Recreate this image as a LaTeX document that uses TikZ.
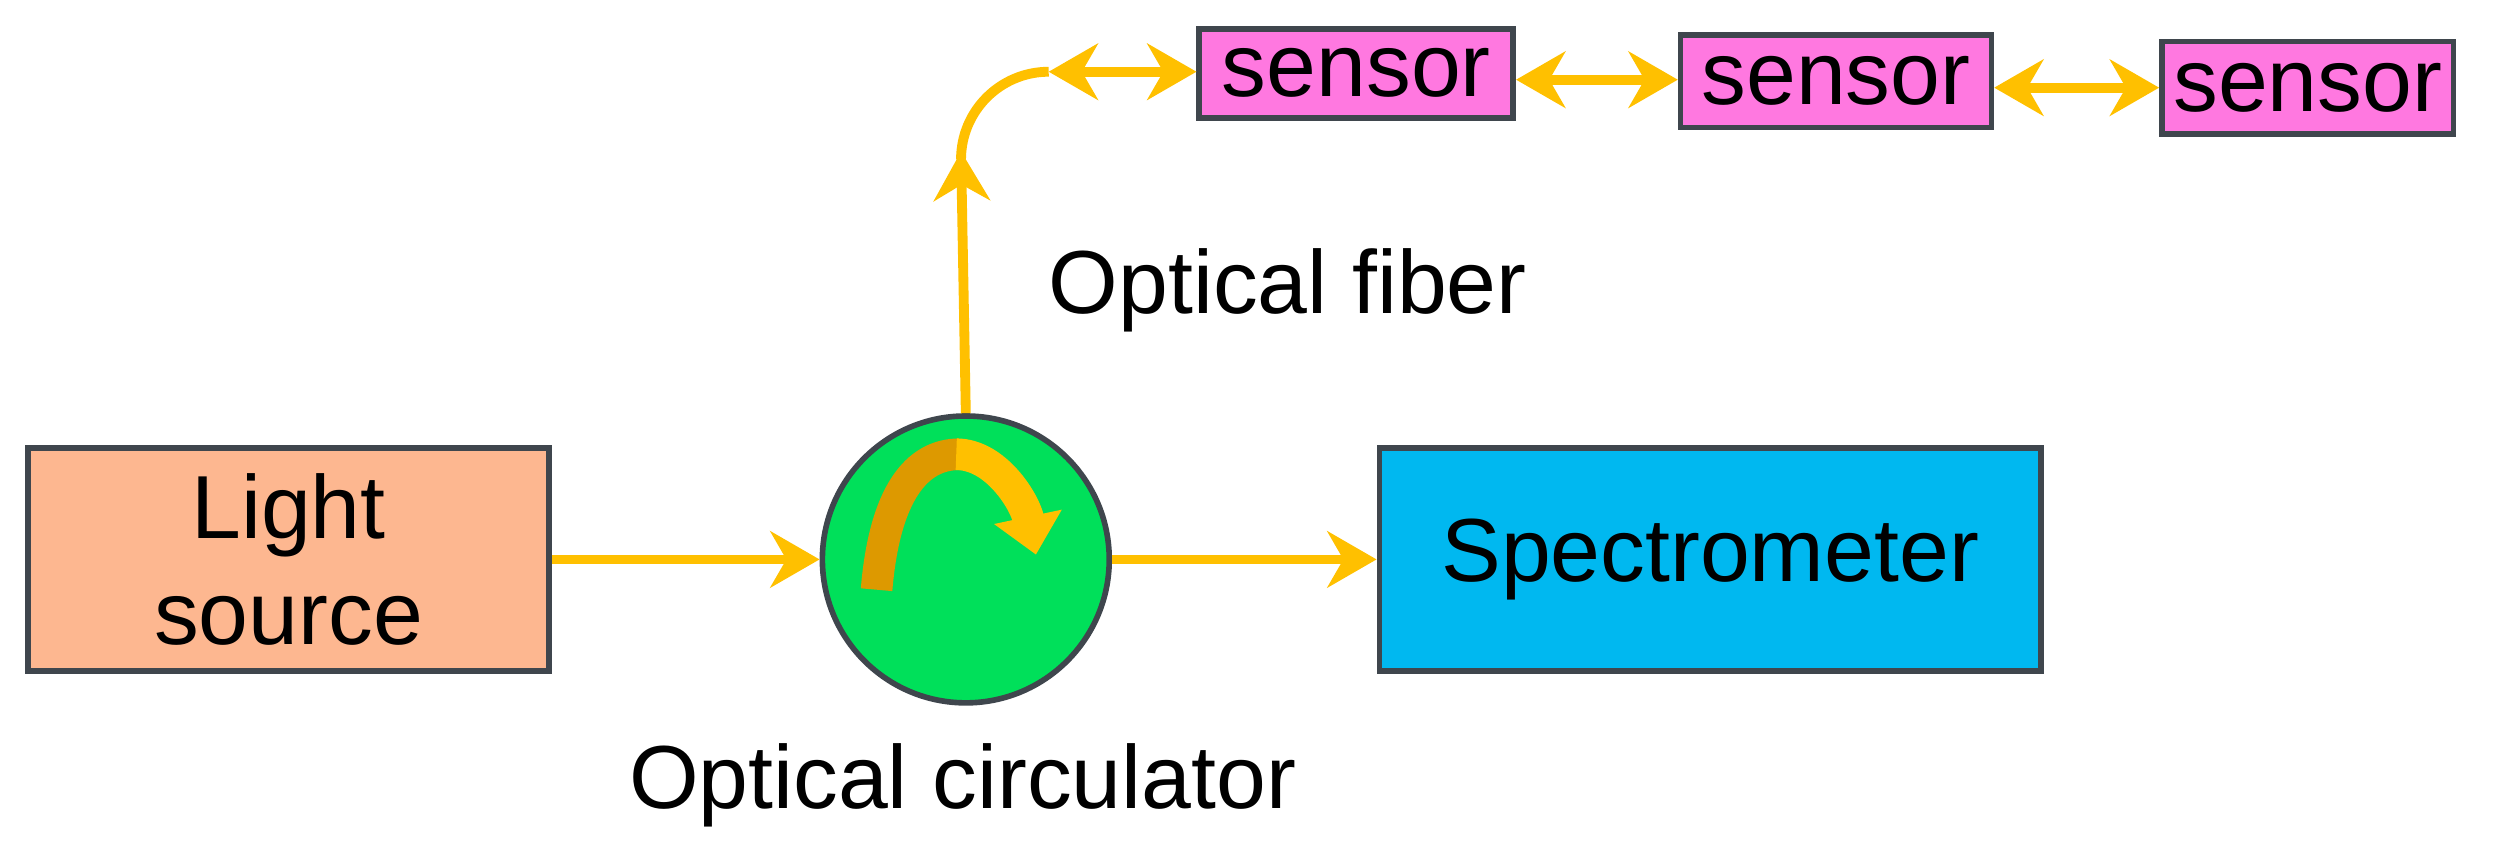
\documentclass[tikz,border=0pt]{standalone}
\usepackage{fontspec}
\setmainfont{Liberation Sans}
\usetikzlibrary{arrows.meta}
\definecolor{fib}{HTML}{FFC000}
\definecolor{fibd}{HTML}{DD9900}
\newcommand\uu{0.015938cm}
\begin{document}
\begin{tikzpicture}[x=\uu,y=-\uu,
  box/.style={draw=black!80!cyan,line width=1.6pt,inner sep=0pt,font=\fontsize{25.5}{30}\selectfont,align=center},
  fiber/.style={draw=fib,line width=2.8pt},
  tip/.style={-{Stealth[length=14pt,width=16pt,fill=fib]}},
  dtip/.style={{Stealth[length=14pt,width=16pt,fill=fib]}-{Stealth[length=14pt,width=16pt,fill=fib]}},
  lab/.style={font=\fontsize{25.5}{30}\selectfont}]
\useasboundingbox (0,0) rectangle (1568,534);
\node[box,fill={rgb,255:red,253;green,183;blue,144},minimum width=327*\uu,minimum height=140*\uu] (ls) at (181,351) {Light\\source};
\node[circle,draw=black!80!cyan,line width=1.6pt,fill={rgb,255:red,0;green,224;blue,90},minimum size=180*\uu] (oc) at (606,351) {};
\node[box,fill={rgb,255:red,0;green,184;blue,240},minimum width=415*\uu,minimum height=140*\uu] (sp) at (1073,351) {Spectrometer};
\node[box,fill={rgb,255:red,255;green,120;blue,224},minimum width=197*\uu,minimum height=56*\uu] (s1) at (851,46) {sensor};
\node[box,fill={rgb,255:red,255;green,120;blue,224},minimum width=195*\uu,minimum height=58*\uu] (s2) at (1152,51) {sensor};
\node[box,fill={rgb,255:red,255;green,120;blue,224},minimum width=183*\uu,minimum height=58*\uu] (s3) at (1448,55) {sensor};
\node[lab] (lf) at (808,182) {Optical fiber};
\node[lab] (lc) at (604,493) {Optical circulator};
% inner circulator arrow
\draw[fibd,line width=9pt] (550,370) .. controls (555,310) and (575,285) .. (602,285);
\draw[fib,line width=9pt,-{Triangle[length=11pt,width=19pt]}] (600,285) .. controls (625,285) and (643,315) .. (650,348);
\draw[fiber,tip] (ls.east) -- (oc.west);
\draw[fiber,tip] (oc.east) -- (sp.west);
\draw[fiber,tip] (oc.north) -- (603,95);
\draw[fiber] (603,100) arc[start angle=180,end angle=270,radius=55] coordinate (bend);
\draw[fiber,dtip] (bend) -- (s1.west |- bend);
\draw[fiber,dtip] (s1.east |- 0,50) -- (s2.west |- 0,50);
\draw[fiber,dtip] (s2.east |- 0,55) -- (s3.west |- 0,55);
\end{tikzpicture}
\end{document}
